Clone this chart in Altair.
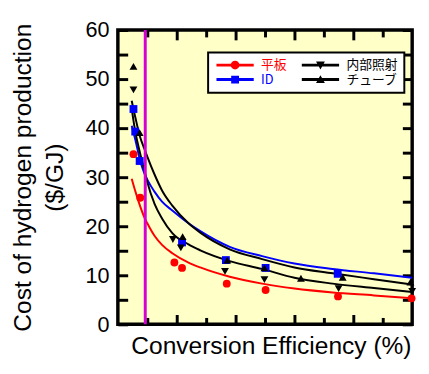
import altair as alt
import pandas as pd

# ---------------- data ----------------
series = ["平板", "ID", "内部照射", "チューブ"]
series_colors = ["#ff0000", "#0000ff", "#000000", "#000000"]
series_shapes = ["circle", "square", "triangle-down", "triangle-up"]

# measured points
flat_x = [0.53, 0.76, 1.92, 2.18, 3.70, 5.02, 7.48, 9.98]
flat_y = [34.7, 25.8, 12.6, 11.5, 8.3, 7.0, 5.7, 5.3]
id_x = [0.53, 0.59, 0.74, 2.18, 3.67, 5.02, 7.47]
id_y = [43.9, 39.3, 33.3, 16.7, 13.1, 11.5, 10.3]
inner_x = [0.53, 1.87, 2.14, 3.64, 4.98, 7.50, 10.0]
inner_y = [47.8, 17.3, 15.6, 10.8, 9.1, 7.3, 6.7]
tube_x = [0.53, 0.74, 2.20, 3.72, 4.98, 6.22, 7.64, 9.94]
tube_y = [52.6, 39.1, 17.9, 13.1, 11.5, 9.4, 9.6, 8.6]

# fitted curves
fit_x = [0.47, 0.6, 0.75, 0.9, 1.0, 1.25, 1.5, 1.85, 2.4, 2.8, 3.8, 4.9, 6.0, 7.3, 8.7, 10.0]
fit_flat = [29.7, 27.0, 24.2, 21.8, 20.6, 18.0, 16.2, 14.5, 12.6, 11.6, 9.7, 8.3, 7.3, 6.5, 5.9, 5.3]
fit_id = [40.5, 37.5, 33.5, 30.8, 29.5, 27.0, 25.0, 23.2, 20.6, 19.0, 15.8, 13.9, 12.4, 11.3, 10.4, 9.5]
fit_inner = [44.0, 39.0, 35.0, 31.5, 29.0, 24.5, 21.6, 18.6, 16.3, 15.1, 12.9, 11.3, 9.5, 8.3, 7.4, 6.6]
fit_tube = [45.6, 42.0, 38.3, 35.8, 34.2, 30.5, 27.3, 24.2, 20.6, 18.7, 15.3, 13.3, 11.6, 10.4, 9.2, 8.1]

marker_line_x = [0.93]

y_label_values = [0, 10, 20, 30, 40, 50, 60]
y_tick_values = [0, 5, 10, 15, 20, 25, 30, 35, 40, 45, 50, 55, 60]
x_major_ticks = [2, 4, 6, 8]
x_minor_ticks = [1, 3, 5, 7, 9]

# ---------------- tables ----------------
color_of = dict(zip(series, series_colors))
shape_of = dict(zip(series, series_shapes))

pts = []
for name, xs, ys in [("平板", flat_x, flat_y), ("ID", id_x, id_y),
                     ("内部照射", inner_x, inner_y), ("チューブ", tube_x, tube_y)]:
    for a, b in zip(xs, ys):
        pts.append({"x": a, "y": b, "s": name, "shp": shape_of[name]})
pts = pd.DataFrame(pts)

fits = []
for name, ys in [("平板", fit_flat), ("ID", fit_id), ("内部照射", fit_inner), ("チューブ", fit_tube)]:
    for a, b in zip(fit_x, ys):
        fits.append({"x": a, "y": b, "s": name, "col": color_of[name]})
fits = pd.DataFrame(fits)

vline = pd.DataFrame({"x": marker_line_x})

FONT = "Liberation Sans"
xscale = alt.Scale(domain=[0, 10], nice=False, zero=False)
yscale = alt.Scale(domain=[0, 60], nice=False)

legend_order = series  # legend fills column by column
color_range = [color_of[s] for s in legend_order]


def tick_axis(orient, values, size):
    return alt.Axis(orient=orient, values=values, labels=False, domain=False, grid=False,
                    ticks=True, tickSize=size, tickWidth=3, tickColor="black",
                    offset=-size, title=None)


# legend symbols: line with marker (custom paths, unit = 4px)
LINE = "M-4.75,-0.375L4.75,-0.375L4.75,0.375L-4.75,0.375Z"
P_CIRCLE = LINE + "M-1.125,0A1.125,1.125 0 1,1 1.125,0A1.125,1.125 0 1,1 -1.125,0Z"
P_SQUARE = LINE + "M-1,-1L1,-1L1,1L-1,1Z"
P_TDOWN = LINE + "M-1.125,-0.9L1.125,-0.9L0,1.1Z"
P_TUP = LINE + "M0,-1.1L1.125,0.9L-1.125,0.9Z"
shape_expr = ("datum.value == '平板' ? '%s' : datum.value == 'ID' ? '%s' : "
              "datum.value == '内部照射' ? '%s' : '%s'") % (P_CIRCLE, P_SQUARE, P_TDOWN, P_TUP)
label_expr = "datum.value == '平板' ? '#ff0000' : datum.value == 'ID' ? '#0000ff' : '#000000'"

legend = alt.Legend(
    title=None, orient="none", legendX=92, legendY=23, columns=2,
    columnPadding=12, rowPadding=1, padding=6,
    fillColor="white", strokeColor="black",
    symbolSize=64, symbolOffset=15, labelOffset=20, symbolStrokeWidth=0,
    symbolOpacity=1, labelFont="Noto Sans CJK JP", labelFontSize=13,
    symbolType=alt.ExprRef(expr=shape_expr),
    labelColor=alt.ExprRef(expr=label_expr),
)

lines = alt.Chart(fits).mark_line(strokeWidth=2, interpolate="monotone").encode(
    x=alt.X("x:Q", scale=xscale, axis=alt.Axis(
        orient="bottom", labels=False, ticks=False, domain=False, grid=False,
        title="Conversion Efficiency (%)", titleFont=FONT, titleFontSize=25,
        titleFontWeight="normal", titleColor="black", titlePadding=10, titleX=156)),
    y=alt.Y("y:Q", scale=yscale, axis=alt.Axis(
        orient="left", values=y_label_values, ticks=False, domain=False, grid=False,
        labelFont=FONT, labelFontSize=22, labelColor="black", labelPadding=9,
        title=["Cost of hydrogen production", "($/GJ)"], titleFont=FONT,
        titleFontSize=25, titleFontWeight="normal", titleColor="black",
        titleLineHeight=33, titlePadding=18)),
    stroke=alt.Stroke("col:N", scale=None),
    detail="s:N",
)

points = alt.Chart(pts).mark_point(filled=True, size=64, opacity=1).encode(
    x=alt.X("x:Q", scale=xscale, axis=tick_axis("bottom", x_major_ticks, 10)),
    y=alt.Y("y:Q", scale=yscale, axis=tick_axis("left", y_tick_values, 10)),
    color=alt.Color("s:N", scale=alt.Scale(domain=legend_order, range=color_range), legend=legend),
    shape=alt.Shape("shp:N", scale=None),
)

rule = alt.Chart(vline).mark_rule(color="#d400d4", strokeWidth=3).encode(
    x=alt.X("x:Q", scale=xscale, axis=tick_axis("bottom", x_minor_ticks, 7)),
)

ax_top_major = alt.Chart(fits).mark_point(opacity=0).encode(
    x=alt.X("x:Q", scale=xscale, axis=tick_axis("top", x_major_ticks, 10)),
    y=alt.Y("y:Q", scale=yscale, axis=tick_axis("right", y_tick_values, 10)),
)

ax_top_minor = alt.Chart(fits).mark_point(opacity=0).encode(
    x=alt.X("x:Q", scale=xscale, axis=tick_axis("top", x_minor_ticks, 7)),
    y=alt.Y("y:Q", scale=yscale, axis=None),
)

chart = alt.layer(lines, rule, points, ax_top_major, ax_top_minor).resolve_axis(
    x="independent", y="independent"
).properties(
    width=300, height=300,
    background="white",
    autosize=alt.AutoSizeParams(type="none"),
    padding={"left": 112, "top": 19, "right": 9, "bottom": 39},
).configure_view(
    fill="#ffffc8", stroke="black", strokeWidth=3.5,
).configure_legend(
    strokeWidth=2,
)

chart.save("out.html", embed_options={"renderer": "svg", "actions": False})
